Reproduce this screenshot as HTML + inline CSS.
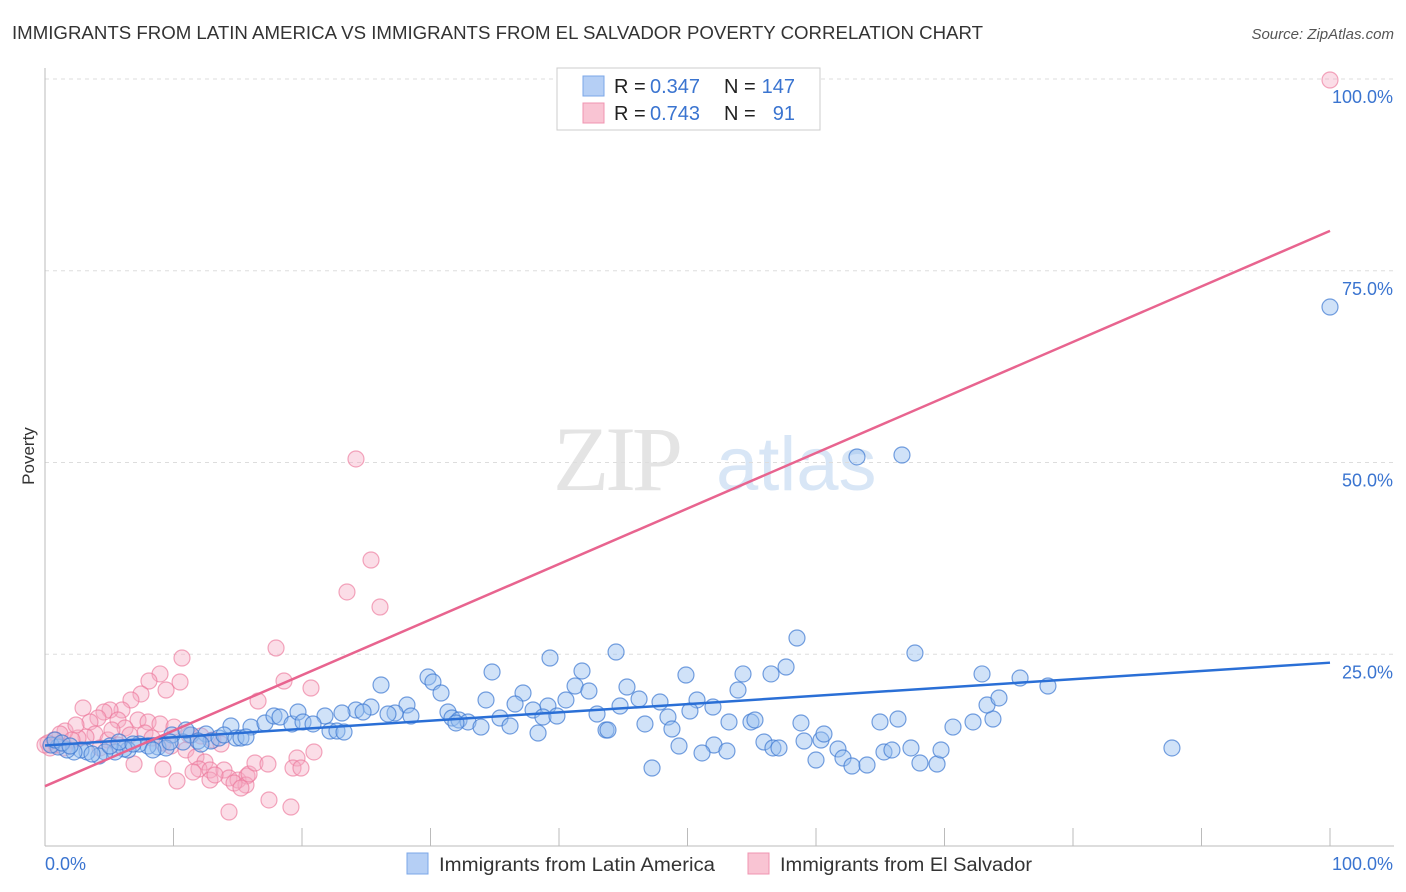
<!DOCTYPE html>
<html><head><meta charset="utf-8"><style>
body{margin:0;background:#fff;font-family:"Liberation Sans",sans-serif;}
svg{display:block}
</style></head><body>
<svg id="chart" width="1406" height="892" xmlns="http://www.w3.org/2000/svg">
<text x="12" y="39" font-size="18" fill="#333" textLength="971" lengthAdjust="spacingAndGlyphs">IMMIGRANTS FROM LATIN AMERICA VS IMMIGRANTS FROM EL SALVADOR POVERTY CORRELATION CHART</text>
<text x="1394" y="39" font-size="15" fill="#555" font-style="italic" text-anchor="end">Source: ZipAtlas.com</text>
<text x="34" y="456" font-size="17" fill="#333" transform="rotate(-90 34 456)" text-anchor="middle">Poverty</text>
<g><text x="553" y="490" font-size="92" fill="#e4e4e4" font-family="Liberation Serif,serif" letter-spacing="-4">ZIP</text><text x="716" y="490" font-size="76" fill="#d8e6f6">atlas</text></g>
<g id="grid"></g><g id="axes"></g><g id="pts"></g><g id="lines"></g>
<g>
<rect x="557" y="68" width="263" height="62" fill="#fff" stroke="#ccc"/>
<rect x="583" y="76" width="21" height="20" fill="#b5cff5" stroke="#7ba7e8"/>
<rect x="583" y="103" width="21" height="20" fill="#f9c4d3" stroke="#f094b0"/>
<text x="614" y="93" font-size="20" fill="#222">R = </text><text x="650" y="93" font-size="20" fill="#3a74d0">0.347</text>
<text x="724" y="93" font-size="20" fill="#222">N = </text><text x="795" y="93" font-size="20" fill="#3a74d0" text-anchor="end">147</text>
<text x="614" y="120" font-size="20" fill="#222">R = </text><text x="650" y="120" font-size="20" fill="#3a74d0">0.743</text>
<text x="724" y="120" font-size="20" fill="#222">N = </text><text x="795" y="120" font-size="20" fill="#3a74d0" text-anchor="end">91</text>
</g>
<g>
<rect x="407" y="853" width="21" height="21" fill="#b5cff5" stroke="#7ba7e8"/>
<text x="439" y="871" font-size="19" fill="#333" textLength="276" lengthAdjust="spacingAndGlyphs">Immigrants from Latin America</text>
<rect x="748" y="853" width="21" height="21" fill="#f9c4d3" stroke="#f094b0"/>
<text x="780" y="871" font-size="19" fill="#333" textLength="252" lengthAdjust="spacingAndGlyphs">Immigrants from El Salvador</text>
</g>
</svg>
<script>
const blueXY=[[1330,307],[857,457],[902,455],[797,638],[616,652],[915,653],[550,658],[492,672],[582,671],[686,675],[743,674],[771,674],[786,667],[982,674],[1020,678],[1048,686],[428,677],[381,685],[433,682],[441,693],[575,686],[589,691],[627,687],[523,693],[639,699],[660,702],[697,700],[738,690],[486,700],[566,700],[548,706],[533,710],[515,704],[371,707],[356,710],[363,712],[342,713],[325,716],[407,705],[411,716],[395,713],[388,714],[448,712],[452,718],[459,720],[468,722],[481,727],[456,723],[500,718],[510,726],[543,717],[557,716],[597,714],[606,730],[620,706],[645,724],[668,717],[672,729],[690,711],[713,707],[729,722],[751,722],[755,720],[801,723],[880,722],[898,719],[953,727],[973,722],[993,719],[987,705],[999,698],[1172,748],[251,727],[231,726],[265,723],[274,716],[280,717],[292,724],[298,712],[303,722],[313,724],[330,731],[337,731],[344,732],[538,733],[608,730],[679,746],[714,745],[702,753],[727,751],[764,742],[773,748],[779,748],[804,741],[821,740],[824,734],[838,749],[843,758],[852,766],[867,765],[884,752],[892,750],[911,748],[920,763],[937,764],[941,750],[652,768],[816,760],[191,735],[206,734],[211,741],[219,738],[224,735],[236,738],[241,738],[246,737],[198,741],[183,742],[172,735],[158,747],[166,748],[148,746],[139,744],[128,750],[124,749],[115,752],[105,752],[99,756],[87,752],[81,750],[74,752],[67,750],[58,747],[51,745],[55,740],[62,743],[70,746],[92,754],[110,746],[119,742],[133,744],[153,750],[170,742],[186,730],[201,744]];
const pinkXY=[[1330,80],[356,459],[371,560],[347,592],[380,607],[276,648],[182,658],[160,674],[149,681],[180,682],[284,681],[311,688],[258,701],[166,690],[141,694],[131,700],[83,708],[122,710],[110,710],[104,712],[98,718],[90,722],[118,720],[138,720],[148,722],[160,724],[174,727],[125,728],[95,734],[86,737],[78,738],[65,731],[60,734],[54,740],[48,743],[50,748],[145,733],[163,743],[171,746],[189,735],[201,736],[213,740],[221,744],[186,750],[196,757],[205,762],[199,769],[193,772],[210,770],[224,770],[229,778],[238,780],[247,776],[246,785],[234,783],[241,788],[249,774],[177,781],[163,769],[134,764],[255,763],[268,764],[297,758],[314,752],[293,768],[301,768],[269,800],[291,807],[229,812],[210,780],[118,745],[108,740],[100,748],[72,740],[112,730],[130,735],[152,738],[215,775],[56,745],[64,748],[45,745],[76,725]];
const blueX=blueXY.map(p=>+((p[0]-45)/12.85).toFixed(2));
const blueY=blueXY.map(p=>+((846-p[1])/7.67).toFixed(2));
const pinkX=pinkXY.map(p=>+((p[0]-45)/12.85).toFixed(2));
const pinkY=pinkXY.map(p=>+((846-p[1])/7.67).toFixed(2));
const blueTrend=[13.1,23.9];
const pinkTrend=[7.8,80.2];
const yTicks=[25,50,75,100];
const yTickLabels=["25.0%","50.0%","75.0%","100.0%"];
const xTicks=[0,10,20,30,40,50,60,70,80,90,100];

const X=v=>45+v*12.85, Y=v=>846-v*7.67;
const NS="http://www.w3.org/2000/svg";
function mk(t,a,parent){const e=document.createElementNS(NS,t);for(const k in a)e.setAttribute(k,a[k]);document.getElementById(parent).appendChild(e);return e;}
yTicks.forEach((v,i)=>{
 const l=mk('line',{x1:45,x2:1394,y1:Y(v),y2:Y(v),stroke:'#ddd','stroke-dasharray':'4,4'},'grid');
 
 
 const t=mk('text',{x:1393,y:Y(v)+24,'font-size':18,fill:'#3a74d0','text-anchor':'end'},'grid');
 t.textContent=yTickLabels[i];
 
 
});
const ax=mk('line',{x1:45,x2:1394,y1:846,y2:846,stroke:'#bbb'},'axes');


const ay=mk('line',{x1:45,x2:45,y1:68,y2:846,stroke:'#bbb'},'axes');


xTicks.forEach(v=>{const t=mk('line',{x1:X(v),x2:X(v),y1:828,y2:846,stroke:'#bbb'},'axes');
 
 });
const xl0=mk('text',{x:45,y:870,'font-size':18,fill:'#3a74d0'},'axes');xl0.textContent='0.0%';


const xl1=mk('text',{x:1393,y:870,'font-size':18,fill:'#3a74d0','text-anchor':'end'},'axes');xl1.textContent='100.0%';


pinkX.forEach((x,i)=>{const c=mk('circle',{cx:X(x),cy:Y(pinkY[i]),r:8,fill:'rgba(246,170,195,0.4)',stroke:'rgba(236,120,155,0.65)','stroke-width':1.2},'pts');
 
 });
blueX.forEach((x,i)=>{const c=mk('circle',{cx:X(x),cy:Y(blueY[i]),r:8,fill:'rgba(150,190,240,0.45)',stroke:'rgba(60,120,210,0.7)','stroke-width':1.2},'pts');
 
 });
const bl=mk('line',{x1:X(0),y1:Y(blueTrend[0]),x2:X(100),y2:Y(blueTrend[1]),stroke:'#2a6fd6','stroke-width':2.5},'lines');


const pl=mk('line',{x1:X(0),y1:Y(pinkTrend[0]),x2:X(100),y2:Y(pinkTrend[1]),stroke:'#e8648f','stroke-width':2.5},'lines');


</script>
</body></html>
